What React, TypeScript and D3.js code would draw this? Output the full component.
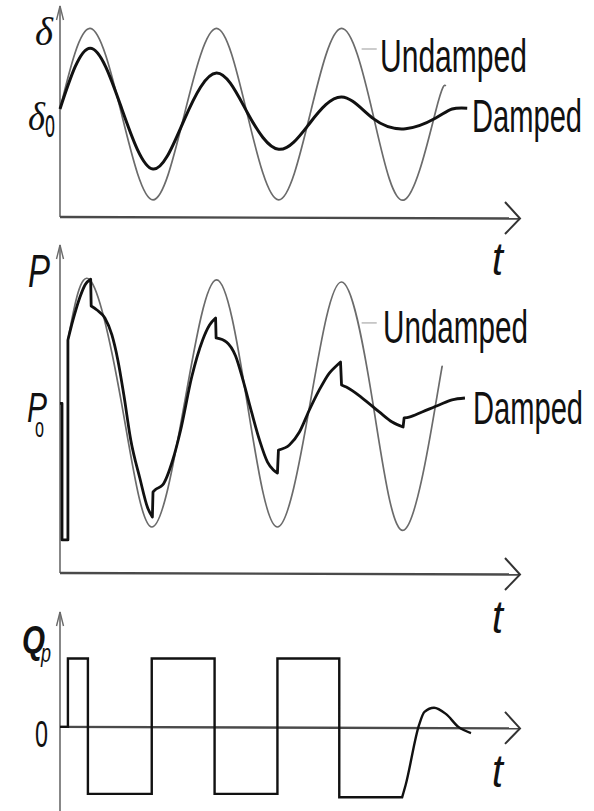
import * as d3 from "d3";

type Pt = [number, number];

// time axis, in oscillation cycles
const tMax = 3.66;

// rotor angle deviation (delta - delta0)
const deltaUndamped: Pt[] = [
  [0, 0.06], [0.24, 1], [0.49, 0], [0.74, -1], [0.99, 0], [1.245, 1], [1.49, 0],
  [1.74, -1], [1.99, 0], [2.24, 1], [2.49, 0], [2.74, -1], [2.99, 0.04], [3.07, 0.33],
];
const deltaDamped: Pt[] = [
  [0, 0.06], [0.24, 0.77], [0.49, 0.07], [0.74, -0.64], [0.99, -0.06], [1.245, 0.48],
  [1.49, 0.02], [1.74, -0.41], [1.99, -0.1], [2.24, 0.2], [2.49, -0.05], [2.75, -0.17],
  [2.99, -0.045], [3.12, 0.06], [3.24, 0.07],
];

// electrical power (P0 = 1)
const powerUndamped: Pt[] = [
  [0.063, 1.465], [0.238, 1.905], [0.49, 1], [0.73, 0.095], [0.99, 1], [1.246, 1.905],
  [1.49, 1], [1.73, 0.095], [1.99, 1], [2.238, 1.89], [2.49, 1], [2.738, 0.073],
  [2.99, 1], [3.04, 1.267],
];
// fault step, then smooth pieces split by the switching jumps
const powerFault: Pt[] = [[0, 1], [0.016, 1], [0.016, 0], [0.063, 0], [0.063, 1.465]];
const powerDamped: Pt[][] = [
  [[0.063, 1.465], [0.103, 1.61], [0.159, 1.78], [0.2, 1.87], [0.244, 1.91]],
  [[0.248, 1.714], [0.294, 1.685], [0.357, 1.626], [0.413, 1.502], [0.46, 1.319],
    [0.508, 1.062], [0.563, 0.733], [0.635, 0.454], [0.698, 0.234], [0.735, 0.168]],
  [[0.74, 0.352], [0.76, 0.37], [0.817, 0.403], [0.897, 0.586], [0.96, 0.806],
    [1.048, 1.194], [1.135, 1.465], [1.19, 1.575], [1.238, 1.626]],
  [[1.242, 1.48], [1.325, 1.45], [1.397, 1.348], [1.46, 1.158], [1.524, 0.938],
    [1.587, 0.733], [1.651, 0.571], [1.698, 0.513], [1.73, 0.49]],
  [[1.738, 0.659], [1.825, 0.696], [1.905, 0.791], [1.984, 0.952], [2.063, 1.099],
    [2.143, 1.223], [2.206, 1.282], [2.232, 1.304]],
  [[2.24, 1.136], [2.278, 1.12], [2.405, 1.04], [2.54, 0.938], [2.643, 0.864], [2.73, 0.828]],
  [[2.738, 0.894], [2.778, 0.9], [2.881, 0.938], [3.016, 0.989], [3.119, 1.026], [3.222, 1.04]],
];

// reactive power of the damping controller
const qSteps: Pt[] = [
  [0, 0], [0.063, 0], [0.063, 1], [0.222, 1], [0.222, -0.98], [0.73, -0.98], [0.73, 1],
  [1.23, 1], [1.23, -0.98], [1.73, -0.98], [1.73, 1], [2.222, 1], [2.222, -1.03], [2.722, -1.03],
];
const qTail: Pt[] = [
  [2.722, -1.03], [2.75, -0.85], [2.857, 0.03], [2.9, 0.22], [2.976, 0.28],
  [3.07, 0.19], [3.17, 0], [3.27, -0.09],
];

const x = d3.scaleLinear().domain([0, tMax]).range([60, 520]);
const yD = d3.scaleLinear().domain([-1.2, 1.25]).range([217, 7]);
const yP = d3.scaleLinear().domain([-0.242, 2.161]).range([573, 245]);
const yQ = d3.scaleLinear().domain([-1.23, 1.68]).range([811, 612]);

const joined = (gen: d3.Line<Pt>, first: string, segs: Pt[][]) =>
  first + segs.map((s) => (gen(s) || "").replace(/^M/, "L")).join("");

const INK = "#111";
const THIN = "#6b6b6b";
const AXIS = "#6a6a6a";

function Axes({ y, top, label }: { y: d3.ScaleLinear<number, number>; top: number; label: number }) {
  const x0 = x(0);
  const yb = y.range()[0] === 811 ? y(0) : y.range()[0];
  const xe = x(tMax);
  return (
    <g fill="none">
      <line x1={x0} x2={x0} y1={y.range()[0]} y2={top} stroke={AXIS} strokeWidth={1.6} />
      <path d={`M${x0 - 3.5},${top + 14}L${x0},${top}L${x0 + 3.5},${top + 14}`} stroke={AXIS} strokeWidth={1.4} />
      <line x1={x0} x2={xe} y1={yb} y2={yb + 1.5} stroke="#4a4a4a" strokeWidth={2.4} />
      <path d={`M${xe - 15},${yb - 15}L${xe},${yb + 1.5}L${xe - 15},${yb + 17}`} stroke="#333" strokeWidth={2} />
      <text x={492} y={label} fontFamily="Liberation Sans" fontStyle="italic" fontSize={46}
        textLength={11} lengthAdjust="spacingAndGlyphs" fill={INK}>t</text>
    </g>
  );
}

function Word({ x: tx, y: ty, text, len }: { x: number; y: number; text: string; len: number }) {
  return (
    <text x={tx} y={ty} fontFamily="Liberation Sans" fontSize={46} textLength={len}
      lengthAdjust="spacingAndGlyphs" fill={INK}>{text}</text>
  );
}

export default function App() {
  const lineD = d3.line<Pt>().x((d) => x(d[0])).y((d) => yD(d[1])).curve(d3.curveNatural);
  const lineP = d3.line<Pt>().x((d) => x(d[0])).y((d) => yP(d[1])).curve(d3.curveNatural);
  const lineP1 = d3.line<Pt>().x((d) => x(d[0])).y((d) => yP(d[1]));
  const lineP2 = d3.line<Pt>().x((d) => x(d[0])).y((d) => yP(d[1])).curve(d3.curveMonotoneX);
  const lineQ1 = d3.line<Pt>().x((d) => x(d[0])).y((d) => yQ(d[1]));
  const lineQ2 = d3.line<Pt>().x((d) => x(d[0])).y((d) => yQ(d[1])).curve(d3.curveMonotoneX);

  const dampedP = joined(lineP2, lineP1(powerFault) || "", powerDamped);
  const qPath = joined(lineQ2, lineQ1(qSteps) || "", [qTail]);

  return (
    <svg width={594} height={811} viewBox="0 0 594 811"
      style={{ position: "absolute", left: 0, top: 0, background: "#fff" }}>
      {/* rotor angle */}
      <Axes y={yD} top={6} label={275} />
      <path d={lineD(deltaUndamped) || ""} fill="none" stroke={THIN} strokeWidth={1.7} />
      <path d={lineD(deltaDamped) || ""} fill="none" stroke={INK} strokeWidth={3} />
      <line x1={x(2.4)} x2={x(2.52)} y1={yD(0.76)} y2={yD(0.76)} stroke="#999" strokeWidth={1} />
      <Word x={380} y={72} text="Undamped" len={147} />
      <Word x={472} y={132} text="Damped" len={110} />
      <text x={35} y={45} fontFamily="Liberation Serif" fontStyle="italic" fontSize={40}
        textLength={18} lengthAdjust="spacingAndGlyphs" fill={INK}>δ</text>
      <text x={28} y={130} fontFamily="Liberation Serif" fontStyle="italic" fontSize={40}
        textLength={17} lengthAdjust="spacingAndGlyphs" fill={INK}>δ</text>
      <text x={45} y={137} fontFamily="Liberation Sans" fontSize={40}
        textLength={10} lengthAdjust="spacingAndGlyphs" fill={INK}>o</text>

      {/* electrical power */}
      <Axes y={yP} top={245} label={633} />
      <path d={lineP(powerUndamped) || ""} fill="none" stroke={THIN} strokeWidth={1.7} />
      <path d={dampedP} fill="none" stroke={INK} strokeWidth={2.8} strokeLinejoin="round" />
      <line x1={x(2.4)} x2={x(2.52)} y1={yP(1.59)} y2={yP(1.59)} stroke="#999" strokeWidth={1} />
      <Word x={383} y={343} text="Undamped" len={145} />
      <Word x={473} y={424} text="Damped" len={110} />
      <text x={28} y={287} fontFamily="Liberation Sans" fontStyle="italic" fontSize={47}
        textLength={22} lengthAdjust="spacingAndGlyphs" fill={INK}>P</text>
      <text x={27} y={422} fontFamily="Liberation Sans" fontStyle="italic" fontSize={42}
        textLength={20} lengthAdjust="spacingAndGlyphs" fill={INK}>P</text>
      <text x={35} y={437} fontFamily="Liberation Sans" fontSize={28}
        textLength={9} lengthAdjust="spacingAndGlyphs" fill={INK}>o</text>

      {/* damping controller output */}
      <Axes y={yQ} top={612} label={787} />
      <path d={qPath} fill="none" stroke={INK} strokeWidth={2.4} strokeLinejoin="miter" />
      <text x={22} y={653} fontFamily="Liberation Sans" fontStyle="italic" fontWeight="bold" fontSize={38}
        textLength={23} lengthAdjust="spacingAndGlyphs" fill={INK}>Q</text>
      <text x={41} y={662} fontFamily="Liberation Sans" fontStyle="italic" fontSize={26}
        textLength={10} lengthAdjust="spacingAndGlyphs" fill={INK}>p</text>
      <text x={35} y={747} fontFamily="Liberation Sans" fontSize={37}
        textLength={13} lengthAdjust="spacingAndGlyphs" fill={INK}>0</text>
    </svg>
  );
}
